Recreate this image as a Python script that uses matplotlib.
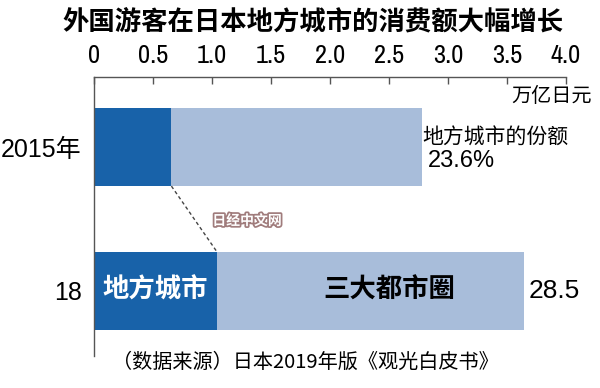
import matplotlib
matplotlib.use("Agg")
import matplotlib.pyplot as plt
import matplotlib.patheffects as pe
from matplotlib import font_manager

# data (trillion yen)
years = ["2015年", "18"]
local_cities = [0.656, 1.04]
total_spend = [2.78, 3.64]
share_2015 = "23.6%"
share_2018 = "28.5"
x_ticks = [0, 0.5, 1.0, 1.5, 2.0, 2.5, 3.0, 3.5, 4.0]
x_tick_labels = ["0", "0.5", "1.0", "1.5", "2.0", "2.5", "3.0", "3.5", "4.0"]

dark = "#1862A9"
light = "#A8BDDA"
cjk = ["Noto Sans CJK SC", "DejaVu Sans"]
latin = ["Liberation Sans", "Noto Sans CJK SC", "DejaVu Sans"]

# look for a condensed face for the tick numbers
tick_font = dict(family=["Liberation Sans", "DejaVu Sans"], fontsize=18)
for f in font_manager.fontManager.ttflist:
    if "Narrow" in f.name or "Condensed" in f.name:
        tick_font = dict(family=[f.name, "DejaVu Sans"], fontsize=19)
        break
    if f.name == "DejaVu Sans" and f.stretch in ("condensed", "semi-condensed"):
        tick_font = dict(family=["DejaVu Sans"], fontstretch="condensed", fontsize=17)

plt.rcParams["font.family"] = cjk

fig = plt.figure(figsize=(6, 3.88), dpi=100)
ax = fig.add_axes([94 / 600, 32 / 388, 472 / 600, 279 / 388])

pos = list(range(len(years)))
h = 0.544
ax.barh(pos, local_cities, height=h, color=dark)
ax.barh(pos, [t - l for t, l in zip(total_spend, local_cities)], left=local_cities,
        height=h, color=light)

# dashed connector between the two local-city segments
ax.plot([local_cities[0], local_cities[1]], [pos[0] + h / 2, pos[1] - h / 2],
        ls=(0, (2.5, 2)), color="#444444", lw=1)

ax.set_xlim(0, 4.0)
ax.set_ylim(1.456, -0.488)
ax.xaxis.tick_top()
ax.set_xticks(x_ticks)
ax.set_xticklabels(x_tick_labels, **tick_font)
ax.tick_params(axis="x", direction="in", length=5, width=1, color="#555555", pad=7)
ax.set_yticks(pos)
ax.set_yticklabels(years, family=latin, fontsize=18)
ax.tick_params(axis="y", length=0, pad=9)
for s in ["right", "bottom"]:
    ax.spines[s].set_visible(False)
for s in ["left", "top"]:
    ax.spines[s].set_color("#555555")
    ax.spines[s].set_linewidth(1)

# labels on the bars
ax.text(local_cities[1] / 2, pos[1], "地方城市", color="white", fontsize=19,
        fontweight="bold", ha="center", va="center")
ax.annotate("三大都市圈", ((local_cities[1] + total_spend[1]) / 2, pos[1]),
            xytext=(14, 0), textcoords="offset points", fontsize=19,
            fontweight="bold", ha="center", va="center")
ax.annotate(share_2018, (total_spend[1], pos[1]), xytext=(4, 0),
            textcoords="offset points", fontsize=19, family=latin,
            ha="left", va="center")
ax.annotate("地方城市的份额", (total_spend[0], pos[0]), xytext=(0, 7),
            textcoords="offset points", fontsize=15, ha="left", va="center")
ax.annotate(share_2015, (total_spend[0], pos[0]), xytext=(4, -10),
            textcoords="offset points", fontsize=17, family=latin,
            ha="left", va="center")

fig.text(313 / 600, 1 - 22 / 388, "外国游客在日本地方城市的消费额大幅增长",
         fontsize=19, fontweight="bold", ha="center", va="center")
fig.text(592 / 600, 1 - 97 / 388, "万亿日元", fontsize=14.5, ha="right", va="center")
fig.text(305 / 600, 1 - 362 / 388, "（数据来源）日本2019年版《观光白皮书》",
         fontsize=14.5, ha="center", va="center")
fig.text(247 / 600, 1 - 221 / 388, "日经中文网", fontsize=10, fontweight="bold",
         color="white", ha="center", va="center",
         path_effects=[pe.withStroke(linewidth=2.5, foreground="#a07c7c")])

fig.savefig("out.png", dpi=100)
